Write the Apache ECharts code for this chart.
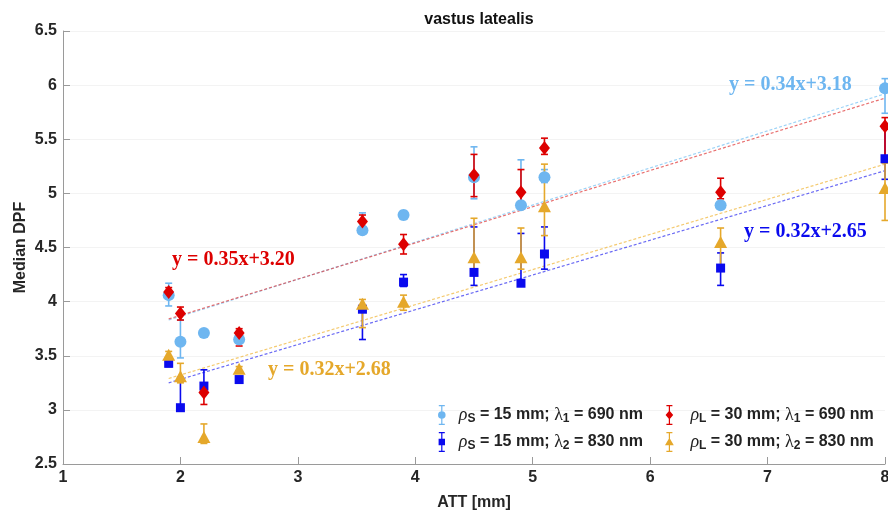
<!DOCTYPE html>
<html>
<head>
<meta charset="utf-8">
<script src="https://cdn.jsdelivr.net/npm/echarts@6/dist/echarts.min.js"></script>
<style>html,body{margin:0;padding:0;background:#fff;}#chart{width:888px;height:517px;}</style>
</head>
<body>
<div id="chart"></div>
<script>
// ---- data ----
const xVals = [1.9, 2.0, 2.2, 2.5, 3.55, 3.9, 4.5, 4.9, 5.1, 6.6, 8.0];

// rho_S = 15 mm; lambda_1 = 690 nm
const sL1Med  = [4.06, 3.63, 3.71, 3.65, 4.66, 4.80, 5.15, 4.89, 5.15, 4.89, 5.97];
const sL1Low  = [3.96, 3.48, 3.71, 3.63, 4.64, 4.76, 4.95, 4.86, 5.10, 4.87, 5.74];
const sL1High = [4.17, 3.83, 3.71, 3.68, 4.82, 4.84, 5.43, 5.31, 5.22, 4.91, 6.06];

// rho_S = 15 mm; lambda_2 = 830 nm
const sL2Med  = [3.43, 3.02, 3.22, 3.28, 3.93, 4.18, 4.27, 4.17, 4.44, 4.31, 5.32];
const sL2Low  = [3.40, 3.00, 3.17, 3.27, 3.65, 4.14, 4.15, 4.15, 4.30, 4.15, 5.13];
const sL2High = [3.46, 3.30, 3.37, 3.30, 3.95, 4.25, 4.69, 4.63, 4.69, 4.45, 5.60];

// rho_L = 30 mm; lambda_1 = 690 nm
const lL1Med  = [4.09, 3.89, 3.16, 3.71, 4.74, 4.53, 5.17, 5.01, 5.42, 5.01, 5.62];
const lL1Low  = [4.04, 3.83, 3.05, 3.59, 4.67, 4.44, 4.97, 4.86, 5.36, 4.95, 5.31];
const lL1High = [4.13, 3.95, 3.20, 3.75, 4.80, 4.62, 5.36, 5.22, 5.51, 5.14, 5.70];

// rho_L = 30 mm; lambda_2 = 830 nm
const lL2Med  = [3.51, 3.31, 2.75, 3.38, 3.98, 4.00, 4.41, 4.41, 4.88, 4.55, 5.05];
const lL2Low  = [3.48, 3.25, 2.69, 3.36, 3.76, 3.92, 4.27, 4.30, 4.61, 4.31, 4.75];
const lL2High = [3.54, 3.43, 2.87, 3.40, 4.02, 4.06, 4.77, 4.68, 5.27, 4.68, 5.28];

// linear fits (end points)
const fitX = [1.9, 8.0];
const fitSL1 = [3.83, 5.92];
const fitSL2 = [3.25, 5.21];
const fitLL1 = [3.84, 5.88];
const fitLL2 = [3.29, 5.27];

const xTicks = [1, 2, 3, 4, 5, 6, 7, 8];
const yTicks = [2.5, 3, 3.5, 4, 4.5, 5, 5.5, 6, 6.5];

const eqSL1 = 'y = 0.34x+3.18';
const eqLL1 = 'y = 0.35x+3.20';
const eqLL2 = 'y = 0.32x+2.68';
const eqSL2 = 'y = 0.32x+2.65';

// ---- styles ----
const C_SL1 = '#6EB6F0', C_SL2 = '#0A0AEE', C_LL1 = '#DD0000', C_LL2 = '#E5A82B';

const ICON_CIRCLE  = 'path://M2,0H8V1.2H2Z M4.4,0H5.6V20H4.4Z M2,18.8H8V20H2Z M1.2,10A3.8,3.8 0 1,1 8.8,10A3.8,3.8 0 1,1 1.2,10Z';
const ICON_SQUARE  = 'path://M2,0H8V1.2H2Z M4.4,0H5.6V20H4.4Z M2,18.8H8V20H2Z M1.8,6.8H8.2V13.2H1.8Z';
const ICON_DIAMOND = 'path://M2,0H8V1.2H2Z M4.4,0H5.6V20H4.4Z M2,18.8H8V20H2Z M5,5.4L8.8,10L5,14.6L1.2,10Z';
const ICON_TRI     = 'path://M2,0H8V1.2H2Z M4.4,0H5.6V20H4.4Z M2,18.8H8V20H2Z M5,5.8L9.4,13.2L0.6,13.2Z';

function errData(low, high) {
  return xVals.map((x, i) => [x, low[i], high[i]]);
}
function ptData(med) {
  return xVals.map((x, i) => [x, med[i]]);
}
function renderErr(params, api) {
  const x = api.value(0), lo = api.value(1), hi = api.value(2);
  if (lo === hi) return null;
  const pH = api.coord([x, hi]);
  const pL = api.coord([x, lo]);
  const hw = 3.5;
  const style = { stroke: api.visual('color'), lineWidth: 1.6 };
  return {
    type: 'group',
    children: [
      { type: 'line', shape: { x1: pH[0], y1: pH[1], x2: pL[0], y2: pL[1] }, style },
      { type: 'line', shape: { x1: pH[0] - hw, y1: pH[1], x2: pH[0] + hw, y2: pH[1] }, style },
      { type: 'line', shape: { x1: pL[0] - hw, y1: pL[1], x2: pL[0] + hw, y2: pL[1] }, style }
    ]
  };
}
function fitSeries(ys, color) {
  return {
    type: 'line', silent: true, symbol: 'none',
    data: fitX.map((x, i) => [x, ys[i]]),
    lineStyle: { color: color, width: 1.2, type: [3, 2], opacity: 0.75 },
    z: 1
  };
}
function group(name, color, med, low, high, symbol, size) {
  return [
    { type: 'custom', name: name + '_err', renderItem: renderErr, data: errData(low, high),
      itemStyle: { color: color }, encode: { x: 0, y: [1, 2] }, clip: false, z: 2, silent: true },
    { type: 'scatter', name: name, data: ptData(med), symbol: symbol, symbolSize: size,
      itemStyle: { color: color, opacity: 1 }, clip: false, z: 3, silent: true }
  ];
}

const N_SL1 = 'sL1', N_SL2 = 'sL2', N_LL1 = 'lL1', N_LL2 = 'lL2';
const legendText = {
  sL1: '{g|ρ}{sub|S}{t| = 15 mm; }{l|λ}{sub|1}{t| = 690 nm}',
  sL2: '{g|ρ}{sub|S}{t| = 15 mm; }{l|λ}{sub|2}{t| = 830 nm}',
  lL1: '{g|ρ}{sub|L}{t| = 30 mm; }{l|λ}{sub|1}{t| = 690 nm}',
  lL2: '{g|ρ}{sub|L}{t| = 30 mm; }{l|λ}{sub|2}{t| = 830 nm}'
};
const legendRich = {
  t:   { fontFamily: 'Liberation Sans', fontWeight: 'bold', fontSize: 16, color: '#222', lineHeight: 20 },
  g:   { fontFamily: 'Liberation Serif', fontStyle: 'italic', fontSize: 18, color: '#222', lineHeight: 20 },
  l:   { fontFamily: 'Liberation Serif', fontSize: 18, color: '#222', lineHeight: 20 },
  sub: { fontFamily: 'Liberation Sans', fontWeight: 'bold', fontSize: 12, color: '#222', lineHeight: 20, verticalAlign: 'bottom', padding: [9, 0, 0, 0] }
};

const chart = echarts.init(document.getElementById('chart'), null, { renderer: 'canvas' });
const axisFont = { fontFamily: 'Liberation Sans', fontWeight: 'bold', fontSize: 16, color: '#262626' };

chart.setOption({
  animation: false,
  backgroundColor: '#ffffff',
  title: {
    text: 'vastus latealis', left: 474, top: 7, textAlign: 'center',
    textStyle: { fontFamily: 'Liberation Sans', fontWeight: 'bold', fontSize: 16, color: '#111' }
  },
  grid: { left: 63, right: 3, top: 31, bottom: 53, containLabel: false, outerBoundsMode: 'none' },
  xAxis: {
    type: 'value', min: xTicks[0], max: xTicks[xTicks.length - 1], interval: 1,
    name: 'ATT [mm]', nameLocation: 'middle', nameGap: 31, nameMoveOverlap: false,
    nameTextStyle: axisFont,
    axisLine: { show: true, onZero: false, lineStyle: { color: '#9a9a9a', width: 1 } },
    axisTick: { show: true, inside: true, length: 7, lineStyle: { color: '#9a9a9a' } },
    axisLabel: Object.assign({ margin: 6 }, axisFont),
    splitLine: { show: false }
  },
  yAxis: {
    type: 'value', min: yTicks[0], max: yTicks[yTicks.length - 1], interval: 0.5,
    name: 'Median DPF', nameLocation: 'middle', nameGap: 34, nameMoveOverlap: false,
    nameTextStyle: axisFont,
    axisLine: { show: true, onZero: false, lineStyle: { color: '#9a9a9a', width: 1 } },
    axisTick: { show: true, inside: true, length: 7, lineStyle: { color: '#9a9a9a' } },
    axisLabel: Object.assign({ margin: 6, formatter: v => String(v) }, axisFont),
    splitLine: { show: true, lineStyle: { color: '#f3f3f3', width: 1 } }
  },
  legend: [
    {
      orient: 'vertical', left: 433, top: 399, itemWidth: 10, itemHeight: 20, itemGap: 6,
      data: [ { name: N_SL1, icon: ICON_CIRCLE }, { name: N_SL2, icon: ICON_SQUARE } ],
      formatter: n => legendText[n],
      textStyle: { padding: [0, 0, 0, 7], rich: legendRich },
      selectedMode: false
    },
    {
      orient: 'vertical', left: 660, top: 399, itemWidth: 10, itemHeight: 20, itemGap: 6,
      data: [ { name: N_LL1, icon: ICON_DIAMOND }, { name: N_LL2, icon: ICON_TRI } ],
      formatter: n => legendText[n],
      textStyle: { padding: [0, 0, 0, 11], rich: legendRich },
      selectedMode: false
    }
  ],
  graphic: [
    { type: 'text', z: 100, x: 729, y: 85, style: { text: eqSL1, fill: C_SL1, font: 'bold 20px "Liberation Serif"', verticalAlign: 'middle' } },
    { type: 'text', z: 100, x: 172, y: 260, style: { text: eqLL1, fill: C_LL1, font: 'bold 20px "Liberation Serif"', verticalAlign: 'middle' } },
    { type: 'text', z: 100, x: 268, y: 370, style: { text: eqLL2, fill: C_LL2, font: 'bold 20px "Liberation Serif"', verticalAlign: 'middle' } },
    { type: 'text', z: 100, x: 744, y: 232, style: { text: eqSL2, fill: C_SL2, font: 'bold 20px "Liberation Serif"', verticalAlign: 'middle' } }
  ],
  series: [
    fitSeries(fitSL1, '#7cc4f4'),
    fitSeries(fitLL1, '#e04040'),
    fitSeries(fitLL2, '#f0b840'),
    fitSeries(fitSL2, '#3a3af0'),
    ...group(N_SL1, C_SL1, sL1Med, sL1Low, sL1High, 'circle', 12),
    ...group(N_SL2, C_SL2, sL2Med, sL2Low, sL2High, 'rect', 9),
    ...group(N_LL1, C_LL1, lL1Med, lL1Low, lL1High, 'diamond', [11, 14]),
    ...group(N_LL2, C_LL2, lL2Med, lL2Low, lL2High, 'triangle', [13, 12])
  ]
});
</script>
</body>
</html>
